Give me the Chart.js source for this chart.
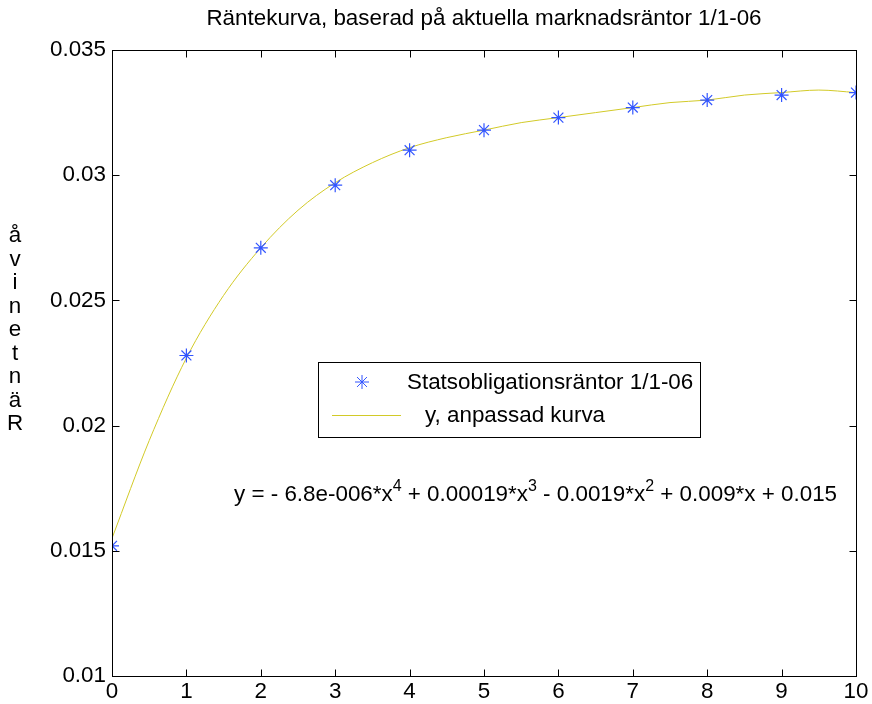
<!DOCTYPE html>
<html>
<head>
<meta charset="utf-8">
<title>Räntekurva</title>
<script src="https://cdn.jsdelivr.net/npm/chart.js@4"></script>
<style>
  html, body { margin: 0; padding: 0; background: #ffffff; }
  canvas { display: block; }
</style>
</head>
<body>
<canvas id="chart" width="872" height="704"></canvas>
<script>
// Löptid i år och marknadsräntor för statsobligationer 1/1-06
const maturities = [0, 1, 2, 3, 4, 5, 6, 7, 8, 9, 10];
const bondRates = [0.0152, 0.0228, 0.0271, 0.0296, 0.0310, 0.0318, 0.0323, 0.0327, 0.0330, 0.0332, 0.0333];

// Anpassad kurva (fjärdegradspolynom), avläst var halvår
const fitX = [0, 0.5, 1, 1.5, 2, 2.5, 3, 3.5, 4, 4.5, 5, 5.5, 6, 6.5, 7, 7.5, 8, 8.5, 9, 9.5, 10];
const fitY = [0.0155, 0.0194, 0.0227, 0.0252, 0.0271, 0.0286, 0.0297, 0.0305, 0.0311, 0.0315, 0.0318,
              0.0321, 0.0323, 0.0325, 0.0327, 0.0329, 0.0330, 0.0332, 0.0333, 0.0334, 0.0333];

// Axelmarkeringar
const xTicks = [0, 1, 2, 3, 4, 5, 6, 7, 8, 9, 10];
const yTicks = [0.01, 0.015, 0.02, 0.025, 0.03, 0.035];
const yTickLabels = ['0.01', '0.015', '0.02', '0.025', '0.03', '0.035'];

const titleText = 'Räntekurva, baserad på aktuella marknadsräntor 1/1-06';
const yAxisTitle = 'Räntenivå';
const pointsLabel = 'Statsobligationsräntor 1/1-06';
const curveLabel = 'y, anpassad kurva';
const equationParts = [
  { t: 'y = - 6.8e-006*x' }, { t: '4', sup: true },
  { t: ' + 0.00019*x' }, { t: '3', sup: true },
  { t: ' - 0.0019*x' }, { t: '2', sup: true },
  { t: ' + 0.009*x + 0.015' }
];

const FONT = '"Liberation Sans", Arial, Helvetica, sans-serif';
const TEXT_SIZE = 22.4;
const markerColor = 'rgb(50,85,255)';
const curveColor = 'rgb(210,202,40)';

// Ram runt diagramytan med inåtriktade skalstreck, plus titel, legend och ekvation
const decorations = {
  id: 'decorations',
  afterDatasetsDraw(chart) {
    const ctx = chart.ctx;
    const a = chart.chartArea;
    const xs = chart.scales.x, ys = chart.scales.y;
    const L = Math.round(a.left) + 0.5, R = Math.round(a.right) + 0.5;
    const T = Math.round(a.top) + 0.5, B = Math.round(a.bottom) + 0.5;
    const tl = 7;
    ctx.save();
    ctx.lineWidth = 1;
    ctx.strokeStyle = '#000';
    ctx.beginPath();
    xs.ticks.forEach(tk => {
      const px = Math.round(xs.getPixelForValue(tk.value)) + 0.5;
      ctx.moveTo(px, B); ctx.lineTo(px, B - tl);
      ctx.moveTo(px, T); ctx.lineTo(px, T + tl);
    });
    ys.ticks.forEach(tk => {
      const py = Math.round(ys.getPixelForValue(tk.value)) + 0.5;
      ctx.moveTo(L, py); ctx.lineTo(L + tl, py);
      ctx.moveTo(R, py); ctx.lineTo(R - tl, py);
    });
    ctx.stroke();
    ctx.strokeRect(L, T, R - L, B - T);
    ctx.restore();
  },
  afterDraw(chart) {
    const ctx = chart.ctx;
    const a = chart.chartArea;
    ctx.save();
    ctx.fillStyle = '#000';

    // Titel
    ctx.font = TEXT_SIZE + 'px ' + FONT;
    ctx.textAlign = 'center';
    ctx.textBaseline = 'alphabetic';
    ctx.fillText(titleText, (a.left + a.right) / 2, 25);

    // Y-axelns rubrik, bokstäverna staplade nerifrån och upp
    Array.from(yAxisTitle).forEach((ch, i) => {
      ctx.fillText(ch, 15, 430 - i * 23.5);
    });

    // Legend
    const box = { x: 318.5, y: 362.5, w: 382, h: 75 };
    ctx.fillStyle = '#fff';
    ctx.fillRect(box.x, box.y, box.w, box.h);
    ctx.strokeStyle = '#000';
    ctx.lineWidth = 1;
    ctx.strokeRect(box.x, box.y, box.w, box.h);
    const ds0 = chart.data.datasets[0], ds1 = chart.data.datasets[1];
    const sx = 362, sy = 382, r = 7, d = r * Math.SQRT1_2;
    ctx.strokeStyle = ds0.borderColor;
    ctx.beginPath();
    ctx.moveTo(sx - r, sy); ctx.lineTo(sx + r, sy);
    ctx.moveTo(sx, sy - r); ctx.lineTo(sx, sy + r);
    ctx.moveTo(sx - d, sy - d); ctx.lineTo(sx + d, sy + d);
    ctx.moveTo(sx - d, sy + d); ctx.lineTo(sx + d, sy - d);
    ctx.stroke();
    ctx.strokeStyle = ds1.borderColor;
    ctx.beginPath();
    ctx.moveTo(332, 415.5); ctx.lineTo(401, 415.5);
    ctx.stroke();
    ctx.fillStyle = '#000';
    ctx.textAlign = 'left';
    ctx.font = TEXT_SIZE + 'px ' + FONT;
    ctx.fillText(ds0.label, 407, 389);
    ctx.fillText(ds1.label, 425, 422);

    // Ekvation för den anpassade kurvan
    let x = 234;
    const base = 501;
    equationParts.forEach(p => {
      ctx.font = (p.sup ? '16px ' : TEXT_SIZE + 'px ') + FONT;
      ctx.fillText(p.t, x, p.sup ? base - 10 : base);
      x += ctx.measureText(p.t).width;
    });
    ctx.restore();
  }
};

new Chart(document.getElementById('chart'), {
  type: 'scatter',
  data: {
    datasets: [
      {
        label: pointsLabel,
        data: maturities.map((m, i) => ({ x: m, y: bondRates[i] })),
        showLine: false,
        pointStyle: 'star',
        pointRadius: 7,
        pointHoverRadius: 7,
        borderColor: markerColor,
        backgroundColor: markerColor,
        pointBorderWidth: 1.2
      },
      {
        label: curveLabel,
        data: fitX.map((v, i) => ({ x: v, y: fitY[i] })),
        showLine: true,
        pointRadius: 0,
        borderColor: curveColor,
        borderWidth: 1,
        cubicInterpolationMode: 'monotone',
        fill: false
      }
    ]
  },
  options: {
    responsive: false,
    animation: false,
    devicePixelRatio: 1,
    layout: { padding: { top: 50, right: 16, left: 0, bottom: 0 } },
    plugins: {
      legend: { display: false },
      title: { display: false },
      tooltip: { enabled: false }
    },
    scales: {
      x: {
        type: 'linear',
        min: 0,
        max: 10,
        afterBuildTicks: s => { s.ticks = xTicks.map(v => ({ value: v })); },
        afterFit: s => { s.height = 28; },
        grid: { display: false, drawTicks: false },
        border: { display: false },
        ticks: {
          padding: 2,
          color: '#000',
          font: { family: FONT, size: TEXT_SIZE },
          callback: v => String(v)
        }
      },
      y: {
        type: 'linear',
        min: 0.01,
        max: 0.035,
        afterBuildTicks: s => { s.ticks = yTicks.map(v => ({ value: v })); },
        afterFit: s => { s.width = 112; },
        grid: { display: false, drawTicks: false },
        border: { display: false },
        ticks: {
          padding: 6,
          color: '#000',
          font: { family: FONT, size: TEXT_SIZE },
          callback: v => {
            const i = yTicks.findIndex(t => Math.abs(t - v) < 1e-9);
            return i >= 0 ? yTickLabels[i] : '';
          }
        }
      }
    }
  },
  plugins: [decorations]
});
</script>
</body>
</html>
